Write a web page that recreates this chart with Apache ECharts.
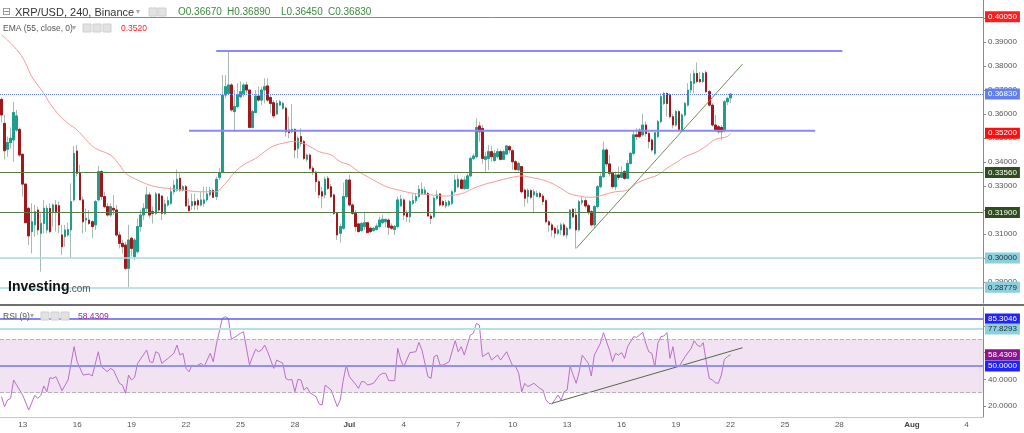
<!DOCTYPE html>
<html>
<head>
<meta charset="utf-8">
<title>XRP/USD 240 Binance</title>
<script src="https://cdn.jsdelivr.net/npm/echarts@6/dist/echarts.min.js"></script>
<style>
  html, body { margin: 0; padding: 0; background: #fff; }
  #chart { width: 1024px; height: 433px; }
</style>
</head>
<body>
<div id="chart"></div>
<script>
// 4H candles from 2018-06-11 20:00 to 2018-07-22 00:00
const opens = [
  .3661,.3561,.3453,.3481,.3492,.3533,.3536,.3432,.3308,.3207,
  .3110,.3138,.3200,.3103,.3144,.3117,.3207,.3193,.3221,.3218,
  .3096,.3089,.3096,.3117,.3242,.3446,.3353,.3242,.3158,.3158,
  .3151,.3138,.3242,.3360,.3256,.3214,.3179,.3207,.3200,.3096,
  .3061,.3054,.2957,.3082,.3006,.3026,.3131,.3179,.3207,.3263,
  .3193,.3186,.3267,.3258,.3186,.3221,.3228,.3276,.3283,.3332,
  .3283,.3297,.3217,.3218,.3235,.3239,.3221,.3228,.3242,.3263,
  .3281,.3256,.3336,.3356,.3679,.3686,.3721,.3610,.3631,.3672,
  .3686,.3721,.3700,.3544,.3606,.3675,.3658,.3700,.3717,.3669,
  .3647,.3600,.3637,.3624,.3624,.3533,.3526,.3536,.3457,.3506,
  .3485,.3411,.3429,.3374,.3357,.3318,.3276,.3263,.3332,.3297,
  .3263,.3186,.3103,.3124,.3256,.3325,.3221,.3186,.3142,.3114,
  .3131,.3147,.3124,.3114,.3119,.3131,.3147,.3151,.3158,.3133,
  .3119,.3131,.3217,.3242,.3186,.3172,.3228,.3239,.3256,.3269,
  .3269,.3269,.3175,.3172,.3249,.3267,.3235,.3217,.3221,.3228,
  .3276,.3297,.3325,.3290,.3290,.3342,.3415,.3422,.3550,.3540,
  .3411,.3415,.3443,.3406,.3422,.3443,.3411,.3433,.3464,.3447,
  .3401,.3367,.3381,.3283,.3256,.3281,.3263,.3256,.3269,.3258,
  .3239,.3151,.3138,.3124,.3103,.3117,.3138,.3096,.3124,.3203,
  .3179,.3117,.3231,.3239,.3218,.3193,.3138,.3214,.3297,.3339,
  .3450,.3392,.3353,.3297,.3346,.3336,.3360,.3332,.3394,.3436,
  .3513,.3533,.3513,.3554,.3519,.3492,.3436,.3506,.3568,.3644,
  .3686,.3679,.3589,.3554,.3610,.3533,.3596,.3637,.3700,.3728,
  .3769,.3744,.3735,.3772,.3693,.3637,.3554,.3547,.3544,.3531,
  .3651,.3667
];
const highs = [
  .3669,.3596,.3506,.3544,.3651,.3617,.3544,.3436,.3311,.3214,
  .3228,.3221,.3214,.3186,.3242,.3221,.3228,.3228,.3242,.3235,
  .3138,.3138,.3147,.3311,.3467,.3471,.3388,.3256,.3207,.3200,
  .3158,.3242,.3383,.3367,.3276,.3228,.3228,.3263,.3221,.3110,
  .3075,.3068,.3138,.3089,.3082,.3165,.3200,.3228,.3297,.3276,
  .3214,.3276,.3269,.3263,.3242,.3256,.3297,.3325,.3369,.3353,
  .3304,.3304,.3249,.3269,.3269,.3249,.3276,.3297,.3297,.3297,
  .3290,.3339,.3374,.3762,.3762,.3862,.3728,.3700,.3728,.3735,
  .3728,.3735,.3700,.3617,.3700,.3714,.3714,.3749,.3749,.3679,
  .3658,.3658,.3658,.3651,.3631,.3589,.3642,.3540,.3510,.3540,
  .3492,.3436,.3436,.3383,.3364,.3325,.3297,.3339,.3342,.3308,
  .3269,.3193,.3144,.3314,.3328,.3346,.3228,.3200,.3147,.3151,
  .3193,.3151,.3131,.3131,.3144,.3172,.3179,.3165,.3165,.3144,
  .3138,.3256,.3263,.3249,.3200,.3242,.3269,.3269,.3304,.3314,
  .3297,.3276,.3186,.3256,.3283,.3269,.3242,.3242,.3242,.3283,
  .3346,.3346,.3332,.3339,.3353,.3422,.3436,.3582,.3568,.3554,
  .3443,.3471,.3467,.3450,.3457,.3450,.3450,.3471,.3471,.3453,
  .3408,.3401,.3383,.3290,.3290,.3286,.3286,.3281,.3276,.3267,
  .3245,.3158,.3147,.3131,.3138,.3147,.3147,.3131,.3203,.3207,
  .3207,.3242,.3256,.3249,.3225,.3200,.3221,.3304,.3353,.3485,
  .3457,.3429,.3360,.3360,.3381,.3383,.3367,.3408,.3443,.3533,
  .3540,.3540,.3600,.3568,.3526,.3499,.3526,.3575,.3686,.3693,
  .3689,.3686,.3600,.3617,.3617,.3603,.3651,.3728,.3769,.3783,
  .3814,.3776,.3776,.3781,.3700,.3644,.3596,.3554,.3554,.3658,
  .3672,.3689
];
const lows = [
  .3564,.3411,.3422,.3457,.3401,.3526,.3422,.3256,.3147,.3054,
  .3019,.3089,.3096,.2943,.3103,.3103,.3103,.3131,.3110,.3103,
  .3013,.3047,.3089,.2999,.3235,.3339,.3242,.3103,.3110,.3138,
  .3082,.3117,.3235,.3242,.3207,.3172,.3172,.3179,.3089,.3040,
  .3019,.2950,.2878,.3006,.2992,.3019,.3110,.3158,.3186,.3165,
  .3144,.3179,.3193,.3158,.3179,.3214,.3221,.3263,.3276,.3276,
  .3276,.3214,.3193,.3200,.3200,.3200,.3214,.3214,.3235,.3256,
  .3249,.3242,.3325,.3353,.3665,.3679,.3610,.3526,.3624,.3665,
  .3672,.3686,.3540,.3540,.3603,.3651,.3637,.3644,.3651,.3603,
  .3582,.3596,.3633,.3617,.3506,.3499,.3520,.3415,.3415,.3464,
  .3408,.3401,.3367,.3346,.3276,.3249,.3207,.3249,.3283,.3249,
  .3179,.3075,.3064,.3117,.3249,.3214,.3179,.3110,.3106,.3110,
  .3117,.3103,.3103,.3110,.3114,.3124,.3142,.3128,.3096,.3117,
  .3096,.3124,.3214,.3158,.3151,.3147,.3221,.3228,.3249,.3263,
  .3263,.3172,.3142,.3165,.3242,.3214,.3214,.3207,.3214,.3221,
  .3269,.3290,.3286,.3283,.3286,.3336,.3408,.3415,.3485,.3394,
  .3360,.3367,.3401,.3401,.3415,.3406,.3408,.3429,.3436,.3367,
  .3364,.3360,.3269,.3214,.3228,.3245,.3186,.3256,.3249,.3221,
  .3144,.3110,.3089,.3082,.3096,.3096,.3089,.3082,.3117,.3165,
  .3040,.3110,.3221,.3207,.3179,.3131,.3124,.3207,.3290,.3332,
  .3381,.3339,.3290,.3283,.3325,.3332,.3325,.3328,.3388,.3429,
  .3492,.3499,.3506,.3506,.3457,.3443,.3429,.3499,.3561,.3637,
  .3589,.3582,.3540,.3547,.3533,.3531,.3589,.3631,.3686,.3686,
  .3728,.3728,.3728,.3686,.3631,.3547,.3526,.3519,.3492,.3522,
  .3637,.3645
];
const closes = [
  .3596,.3447,.3481,.3499,.3606,.3592,.3429,.3308,.3147,.3092,
  .3151,.3193,.3117,.3144,.3207,.3207,.3110,.3221,.3193,.3138,
  .3047,.3117,.3119,.3235,.3436,.3353,.3242,.3151,.3165,.3144,
  .3131,.3235,.3360,.3256,.3214,.3179,.3214,.3200,.3096,.3061,
  .3047,.2957,.3075,.3040,.3075,.3131,.3179,.3207,.3263,.3179,
  .3186,.3267,.3200,.3186,.3225,.3239,.3276,.3304,.3328,.3283,
  .3297,.3217,.3197,.3235,.3221,.3221,.3242,.3242,.3267,.3281,
  .3253,.3328,.3356,.3679,.3714,.3721,.3617,.3631,.3679,.3693,
  .3721,.3700,.3544,.3610,.3675,.3658,.3700,.3714,.3658,.3644,
  .3592,.3644,.3651,.3644,.3526,.3522,.3536,.3450,.3499,.3478,
  .3415,.3429,.3374,.3360,.3318,.3263,.3258,.3328,.3290,.3256,
  .3186,.3096,.3131,.3256,.3325,.3221,.3186,.3131,.3110,.3144,
  .3147,.3106,.3110,.3124,.3133,.3158,.3161,.3161,.3128,.3124,
  .3131,.3242,.3245,.3179,.3172,.3235,.3239,.3256,.3286,.3286,
  .3283,.3175,.3165,.3249,.3263,.3221,.3221,.3231,.3235,.3276,
  .3325,.3328,.3290,.3325,.3342,.3415,.3425,.3544,.3526,.3415,
  .3422,.3443,.3422,.3436,.3443,.3411,.3443,.3467,.3450,.3401,
  .3369,.3394,.3276,.3249,.3281,.3253,.3276,.3269,.3256,.3235,
  .3151,.3138,.3117,.3103,.3117,.3138,.3096,.3124,.3200,.3172,
  .3117,.3235,.3239,.3217,.3189,.3138,.3214,.3297,.3339,.3450,
  .3392,.3353,.3297,.3346,.3336,.3353,.3332,.3394,.3436,.3513,
  .3506,.3506,.3554,.3519,.3485,.3450,.3522,.3568,.3672,.3686,
  .3644,.3589,.3554,.3610,.3536,.3596,.3644,.3700,.3735,.3769,
  .3735,.3735,.3769,.3693,.3637,.3554,.3533,.3526,.3526,.3651,
  .3665,.3683
];

// EMA(55): [candle index, value]
const emaPoints = [
  [0,.3929],[2,.3908],[6,.3853],[8,.3811],[10,.3756],[14,.3686],[16,.3644],[19,.3596],
  [22,.3561],[25,.3533],[28,.3492],[31,.3457],[36,.3429],[39,.3388],[41,.3353],[45,.3325],
  [48,.3308],[51,.3297],[55,.3290],[60,.3283],[66,.3276],[71,.3276],[73,.3297],[75,.3325],
  [77,.3356],[80,.3388],[84,.3415],[87,.3443],[90,.3467],[94,.3481],[96,.3485],[99,.3481],
  [102,.3464],[105,.3443],[109,.3429],[112,.3401],[115,.3388],[118,.3360],[122,.3332],[125,.3311],
  [128,.3294],[132,.3281],[135,.3272],[138,.3267],[142,.3263],[147,.3258],[150,.3263],[153,.3272],
  [156,.3290],[160,.3308],[163,.3318],[166,.3328],[170,.3339],[172,.3342],[175,.3336],[179,.3325],
  [182,.3311],[185,.3290],[188,.3267],[192,.3256],[194,.3253],[197,.3256],[200,.3267],[203,.3276],
  [207,.3283],[210,.3311],[213,.3328],[217,.3346],[220,.3374],[223,.3397],[226,.3422],[230,.3443],
  [233,.3467],[236,.3494],[240,.3506],[241,.3520]
];

// RSI(9): [candle index, value]
const rsiPoints = [
  [0,27],[1,19.5],[2,24.5],[3,25.7],[4,39.5],[5,35.7],[7,28.2],[9,17],[11,28],[12,25.7],
  [13,28],[14,35],[15,30.7],[16,41.2],[17,40.7],[18,42],[20,31.5],[22,39.5],[24,64.5],[25,53.2],
  [27,43.2],[29,44],[30,42.5],[32,60.7],[33,49.5],[35,45.7],[36,48.2],[37,47],[39,37],[40,35.7],
  [41,29.5],[42,43.2],[43,39.5],[44,41.5],[45,52],[48,62],[49,53.2],[50,52.5],[51,60.7],[52,59.5],
  [53,52],[55,55.7],[57,59.5],[58,65.7],[59,58.2],[60,59.5],[61,48.2],[62,45.7],[63,50.7],[64,49.5],
  [66,52],[67,49.5],[69,59.5],[70,53.2],[71,65.7],[73,85.7],[74,87],[75,85.7],[76,70],[79,74.5],
  [80,75.7],[82,50.7],[83,57],[84,62.5],[85,60.7],[86,62],[87,65.7],[88,60.7],[89,54.5],[90,48.2],
  [91,54.5],[93,52],[94,40.7],[95,39.5],[96,40],[97,30.7],[98,40],[99,39.5],[100,32],[101,34],
  [102,30],[104,27],[105,21.5],[106,20.7],[107,35.7],[109,32],[110,25.7],[111,19.5],[112,24.5],[113,39.5],
  [114,50.7],[115,42],[117,36.5],[118,33.2],[119,38.2],[120,38.2],[121,35.7],[123,37],[125,43.2],[126,44.5],
  [127,44.5],[128,39],[130,39],[131,63.2],[132,54.5],[133,49.5],[135,60],[137,60.7],[138,67.7],[139,62],
  [141,42],[142,40.7],[143,57],[144,58.2],[145,50.7],[146,50.7],[148,53.2],[150,69],[151,60.7],[152,64.5],
  [153,58.2],[155,73.2],[156,74.5],[157,82],[158,80.7],[159,57],[161,60],[162,54.5],[164,58.2],[165,54.5],
  [167,60.7],[169,50],[170,49.5],[171,44.5],[172,30.7],[173,37],[174,34.5],[176,37],[178,33.2],[179,32],
  [180,24.5],[181,22],[182,21.5],[184,28.2],[185,24.5],[186,30.7],[187,32],[188,50],[189,43.2],[190,37],
  [191,45.7],[192,58.2],[194,52],[195,42.5],[196,58.2],[198,67],[199,75],[201,62],[202,53.2],[203,59.5],
  [204,58.2],[205,60],[206,55.7],[207,64.5],[209,72],[210,71.5],[212,75.2],[213,67],[214,60.7],[215,59.5],
  [216,49.5],[217,67],[218,72],[219,72.5],[220,75],[221,55.7],[222,64.5],[223,50.7],[224,49.5],[226,57],
  [228,63.2],[229,69],[230,65.7],[231,64.5],[232,67.5],[233,53.2],[234,40.7],[235,39.5],[236,37.5],[237,37],
  [238,43.2],[239,55],[240,57],[241,58.4309]
];

// drawn lines: [from index, to index, value] and trend lines [[i, v], [i, v]]
const levelSegments = [[71, 278, 0.38625], [62, 269, 0.3530]];
const priceTrend = [[190, 0.3040], [245, 0.3808]];
const rsiTrend = [[182, 22.0], [245, 63.7]];

const priceTicks = [0.29, 0.30, 0.31, 0.32, 0.33, 0.34, 0.35, 0.36, 0.37, 0.38, 0.39, 0.40];
const rsiTicks = [20, 40, 60, 80];
const tickDays = ['06-13','06-16','06-19','06-22','06-25','06-28','07-01','07-04','07-07',
                  '07-10','07-13','07-16','07-19','07-22','07-25','07-28','08-01','08-04'];
const tickNames = ['13','16','19','22','25','28','Jul','4','7','10','13','16','19','22','25','28','Aug','4'];

// 4H slots, past the last candle up to the right edge
const cats = [];
const t0 = Date.UTC(2018, 5, 11, 20);
for (let k = 0; k < 325; k++) {
  const d = new Date(t0 + k * 4 * 3600 * 1000);
  const mm = String(d.getUTCMonth() + 1).padStart(2, '0');
  const dd = String(d.getUTCDate()).padStart(2, '0');
  const hh = String(d.getUTCHours()).padStart(2, '0');
  cats.push(mm + '-' + dd + ' ' + hh);
}
const tickMap = {};
tickDays.forEach((d, i) => { tickMap[d + ' 00'] = tickNames[i]; });

const font = '"Liberation Sans", Arial, sans-serif';

const wickData = opens.map((o, i) => [o, closes[i], lows[i], highs[i]]);
const bodyData = opens.map((o, i) => [o, closes[i], Math.min(o, closes[i]), Math.max(o, closes[i])]);

// a horizontal level with its price tag on the right axis; lineColor null = tag only
const level = (value, text, lineColor, width, type, bg, fg) => ({
  yAxis: value,
  lineStyle: { color: lineColor || 'rgba(0,0,0,0)', width: width, type: type },
  label: {
    show: text !== '', position: 'end', distance: 2, formatter: text,
    color: fg, backgroundColor: bg, padding: [1, 3, 1, 3],
    fontSize: 8, lineHeight: 9, fontFamily: font
  }
});

const segment = (s, color) => ({
  type: 'line', xAxisIndex: 0, yAxisIndex: 0, symbol: 'none', silent: true, z: 4,
  data: [[s[0], s[2]], [s[1], s[2]]],
  lineStyle: { color: color, width: 2 }
});

const chart = echarts.init(document.getElementById('chart'));

const option = {
  animation: false,
  backgroundColor: '#fff',
  grid: [
    { left: 0, right: 41, top: 0, height: 303 },
    { left: 0, right: 41, top: 307, height: 110 }
  ],
  xAxis: [
    {
      gridIndex: 0, type: 'category', data: cats, boundaryGap: true,
      axisLine: { show: false }, axisTick: { show: false }, axisLabel: { show: false }
    },
    {
      gridIndex: 1, type: 'category', data: cats, boundaryGap: true,
      axisLine: { show: true, lineStyle: { color: '#c8c8c8' } },
      axisTick: { show: false },
      axisLabel: {
        interval: (idx, val) => val in tickMap,
        formatter: (val) => {
          const t = tickMap[val] || '';
          return /[A-Za-z]/.test(t) ? '{b|' + t + '}' : t;
        },
        fontSize: 8, color: '#555', margin: 4, fontFamily: font,
        rich: { b: { fontWeight: 'bold', fontSize: 8, color: '#444', fontFamily: font } }
      }
    }
  ],
  yAxis: [
    {
      gridIndex: 0, type: 'value', position: 'right', min: 0.28125, max: 0.4075,
      axisLine: { show: true, lineStyle: { color: '#8a8a8a' } },
      axisTick: { show: true, length: 3, customValues: priceTicks, lineStyle: { color: '#8a8a8a' } },
      axisLabel: { customValues: priceTicks, formatter: (v) => v.toFixed(5), fontSize: 8, color: '#555', margin: 5, fontFamily: font },
      splitLine: { show: false }
    },
    {
      gridIndex: 1, type: 'value', position: 'right', min: 11.75, max: 94.25,
      axisLine: { show: true, lineStyle: { color: '#8a8a8a' } },
      axisTick: { show: true, length: 3, customValues: rsiTicks, lineStyle: { color: '#8a8a8a' } },
      axisLabel: { customValues: rsiTicks, formatter: (v) => v.toFixed(4), fontSize: 8, color: '#555', margin: 5, fontFamily: font },
      splitLine: { show: false }
    }
  ],
  series: [
    {
      name: 'wicks', type: 'candlestick', xAxisIndex: 0, yAxisIndex: 0, barWidth: 2, silent: true,
      data: wickData,
      itemStyle: { color: '#a9bab1', color0: '#a9bab1', borderColor: '#a9bab1', borderColor0: '#a9bab1', borderWidth: 1 }
    },
    {
      name: 'XRP/USD', type: 'candlestick', xAxisIndex: 0, yAxisIndex: 0, barWidth: 2, silent: true,
      data: bodyData,
      itemStyle: { color: '#1f9e8e', color0: '#a3171b', borderColor: '#1f9e8e', borderColor0: '#a3171b', borderWidth: 1 }
    },
    {
      name: 'EMA (55, close, 0)', type: 'line', xAxisIndex: 0, yAxisIndex: 0, symbol: 'none', smooth: 0.4, silent: true, z: 3,
      data: emaPoints,
      lineStyle: { color: '#f59b98', width: 1 },
      markLine: {
        silent: true, symbol: ['none', 'none'], animation: false, precision: 6,
        data: [
          level(0.4005, '0.40050', '#ef5b5b', 1, 'solid', '#ff1c1c', '#fff'),
          level(0.3683, '0.36830', '#6384f0', 1, 'dotted', '#5f80ee', '#fff'),
          level(0.3356, '0.33560', '#5b7b48', 1, 'solid', '#2f4d1e', '#fff'),
          level(0.3190, '0.31900', '#5b7b48', 1, 'solid', '#2f4d1e', '#fff'),
          level(0.3000, '0.30000', '#a6dae6', 1.5, 'solid', '#8ccfdd', '#1d2b33'),
          level(0.28779, '0.28779', '#a6dae6', 1.5, 'solid', '#8ccfdd', '#1d2b33'),
          level(0.3520, '0.35200', null, 1, 'solid', '#ff0d0d', '#fff')
        ]
      }
    },
    segment(levelSegments[0], '#8a8af7'),
    segment(levelSegments[1], '#8a8af7'),
    {
      type: 'line', xAxisIndex: 0, yAxisIndex: 0, symbol: 'none', silent: true, z: 4,
      data: priceTrend, lineStyle: { color: '#6f8d5c', width: 1 }
    },
    {
      name: 'RSI (9)', type: 'line', xAxisIndex: 1, yAxisIndex: 1, symbol: 'none', silent: true, z: 3,
      data: rsiPoints,
      lineStyle: { color: '#bb6fcb', width: 1 },
      markArea: {
        silent: true, z: 1,
        itemStyle: { color: '#f2e3f2' },
        data: [[{ yAxis: 30 }, { yAxis: 70 }]]
      },
      markLine: {
        silent: true, symbol: ['none', 'none'], animation: false, precision: 6,
        data: [
          level(85.3046, '85.3046', '#5d5df5', 1.5, 'solid', '#2222ff', '#fff'),
          level(77.8293, '77.8293', '#b3e0ea', 2, 'solid', '#8ccfdd', '#1d2b33'),
          level(70, '', '#b5b5b5', 1, 'dashed', 'transparent', 'transparent'),
          level(30, '', '#b5b5b5', 1, 'dashed', 'transparent', 'transparent'),
          level(50, '50.0000', '#9090f5', 2, 'solid', '#2222ff', '#fff'),
          level(58.4309, '58.4309', null, 1, 'solid', '#8d128d', '#fff')
        ]
      }
    },
    {
      type: 'line', xAxisIndex: 1, yAxisIndex: 1, symbol: 'none', silent: true, z: 4,
      data: rsiTrend, lineStyle: { color: '#56684a', width: 1 }
    }
  ],
  graphic: [
    { type: 'rect', shape: { x: 0, y: 304, width: 1024, height: 2 }, style: { fill: '#6f6f6f' }, z: 10 },
    // header, row 1
    { type: 'text', x: 2, y: 7, z: 10, style: { text: '⊟', font: '11px "DejaVu Sans"', fill: '#8a8a8a' } },
    { type: 'text', x: 15, y: 7, z: 10, style: { text: 'XRP/USD, 240, Binance', font: '11px ' + font, fill: '#333' } },
    { type: 'text', x: 136, y: 8, z: 10, style: { text: '▾', font: '8px "DejaVu Sans"', fill: '#aaa' } },
    { type: 'rect', z: 10, shape: { x: 149, y: 8, width: 8, height: 8 }, style: { fill: '#e2e2e2', stroke: '#cfcfcf' } },
    { type: 'rect', z: 10, shape: { x: 158, y: 8, width: 8, height: 8 }, style: { fill: '#e2e2e2', stroke: '#cfcfcf' } },
    { type: 'text', x: 178, y: 7, z: 10, style: { text: 'O0.36670', font: '10px ' + font, fill: '#3d8b3d' } },
    { type: 'text', x: 227, y: 7, z: 10, style: { text: 'H0.36890', font: '10px ' + font, fill: '#3d8b3d' } },
    { type: 'text', x: 281, y: 7, z: 10, style: { text: 'L0.36450', font: '10px ' + font, fill: '#3d8b3d' } },
    { type: 'text', x: 328, y: 7, z: 10, style: { text: 'C0.36830', font: '10px ' + font, fill: '#3d8b3d' } },
    // header, row 2
    { type: 'text', x: 3, y: 24, z: 10, style: { text: 'EMA (55, close, 0)', font: '8.5px ' + font, fill: '#555' } },
    { type: 'text', x: 72, y: 24, z: 10, style: { text: '▾', font: '8px "DejaVu Sans"', fill: '#aaa' } },
    { type: 'rect', z: 10, shape: { x: 83, y: 24, width: 8, height: 8 }, style: { fill: '#e2e2e2', stroke: '#cfcfcf' } },
    { type: 'rect', z: 10, shape: { x: 93, y: 24, width: 8, height: 8 }, style: { fill: '#e2e2e2', stroke: '#cfcfcf' } },
    { type: 'rect', z: 10, shape: { x: 103, y: 24, width: 8, height: 8 }, style: { fill: '#e2e2e2', stroke: '#cfcfcf' } },
    { type: 'text', x: 121, y: 24, z: 10, style: { text: '0.3520', font: '8.5px ' + font, fill: '#ff2020' } },
    // watermark
    { type: 'text', x: 8, y: 280, z: 10, style: { text: 'Investing', font: 'bold 14px ' + font, fill: '#111' } },
    { type: 'text', x: 69, y: 284, z: 10, style: { text: '.com', font: '10px ' + font, fill: '#555' } },
    // RSI header
    { type: 'text', x: 3, y: 312, z: 10, style: { text: 'RSI (9)', font: '8.5px ' + font, fill: '#555' } },
    { type: 'text', x: 30, y: 312, z: 10, style: { text: '▾', font: '8px "DejaVu Sans"', fill: '#aaa' } },
    { type: 'rect', z: 10, shape: { x: 41, y: 312, width: 8, height: 8 }, style: { fill: '#e2e2e2', stroke: '#cfcfcf' } },
    { type: 'rect', z: 10, shape: { x: 51, y: 312, width: 8, height: 8 }, style: { fill: '#e2e2e2', stroke: '#cfcfcf' } },
    { type: 'rect', z: 10, shape: { x: 61, y: 312, width: 8, height: 8 }, style: { fill: '#e2e2e2', stroke: '#cfcfcf' } },
    { type: 'text', x: 78, y: 312, z: 10, style: { text: '58.4309', font: '8.5px ' + font, fill: '#9b239b' } }
  ]
};

chart.setOption(option);
</script>
</body>
</html>
